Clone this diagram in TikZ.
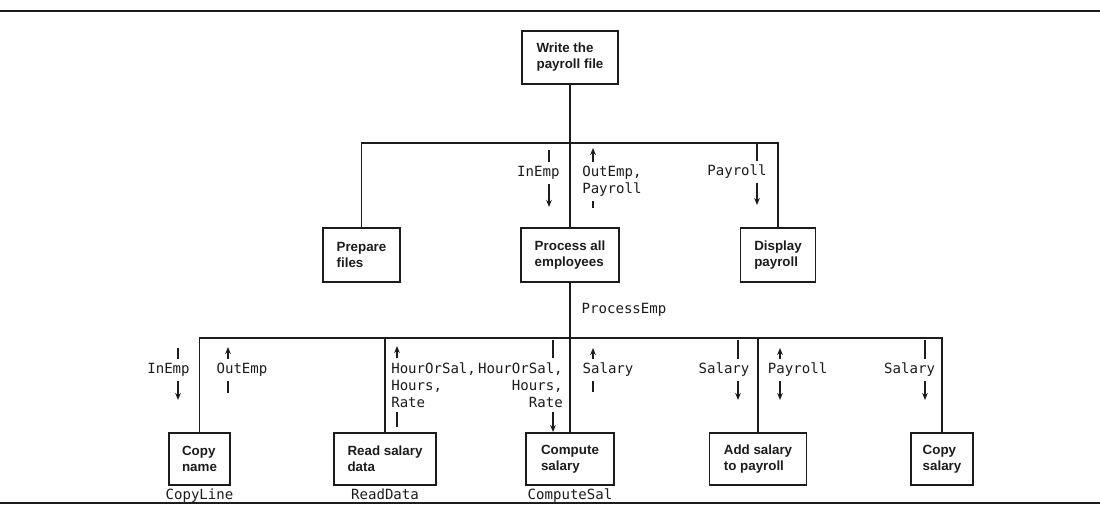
\documentclass[tikz,border=0pt]{standalone}
\usepackage{fontspec}
\setsansfont{Liberation Sans}
\setmonofont{DejaVu Sans Mono}
\usepackage{tikz}
\usetikzlibrary{arrows.meta,positioning}
\definecolor{ink}{HTML}{1C1C1C}

\begin{document}
\begin{tikzpicture}[
  box/.style={rectangle,draw=ink,line width=1.3pt,inner sep=2pt,align=left,text=ink,
    font=\sffamily\bfseries\fontsize{9.5}{11.4}\selectfont},
  flow/.style={fill=white,inner xsep=1pt,inner ysep=3pt,text=ink,
    font=\ttfamily\fontsize{10}{12}\selectfont},
  modname/.style={inner sep=1pt,text=ink,font=\ttfamily\fontsize{10}{12}\selectfont},
  link/.style={draw=ink,line width=1.2pt},
  datarrow/.style={draw=ink,line width=0.9pt},
  >={Stealth[length=5pt,width=4pt]}
]
  \useasboundingbox (0,0) rectangle (27.5,12.675);
  % page rules
  \draw[ink,line width=2pt] (0,12.4) -- (27.5,12.4);
  \draw[ink,line width=1.1pt] (0,0.1) -- (27.5,0.1);

  % modules
  \node[box,minimum width=2.4cm,minimum height=1.325cm] (root) at (14.25,11.2375) {Write the\\payroll file};
  \node[box,minimum width=1.925cm,minimum height=1.35cm] (prep) at (9.0375,6.3) {Prepare\\files};
  \node[box,minimum width=2.45cm,minimum height=1.35cm] (proc) at (14.25,6.3) {Process all\\employees};
  \node[box,minimum width=1.875cm,minimum height=1.35cm] (disp) at (19.45,6.3) {Display\\payroll};
  \node[box,minimum width=1.525cm,minimum height=1.3cm] (cname) at (4.9875,1.2) {Copy\\name};
  \node[box,minimum width=2.55cm,minimum height=1.3cm] (read) at (9.625,1.2) {Read salary\\data};
  \node[box,minimum width=2.2cm,minimum height=1.3cm] (comp) at (14.25,1.2) {Compute\\salary};
  \node[box,minimum width=2.425cm,minimum height=1.3cm] (addsal) at (18.95,1.2) {Add salary\\to payroll};
  \node[box,minimum width=1.55cm,minimum height=1.3cm] (csal) at (23.55,1.2) {Copy\\salary};

  \node[modname,below=1pt of cname] (cline) {CopyLine};
  \node[modname,below=1pt of read] (rdata) {ReadData};
  \node[modname,below=1pt of comp] (csalname) {ComputeSal};

  % tree lines
  \coordinate (bar1) at (14.25,9.1);
  \coordinate (bar2) at (14.25,4.225);
  \draw[link] (root) -- (proc);
  \draw[link] (prep) |- (bar1) -| (disp);
  \draw[link] (proc) -- (comp);
  \draw[link] (cname) |- (bar2) -| (csal);
  \draw[link] (read) -- (read |- bar2);
  \draw[link] (addsal) -- (addsal |- bar2);
  \node[modname,anchor=west] (pemp) at (14.5,4.925) {ProcessEmp};

  % data flows, first level
  \coordinate (inA) at (13.725,8.925);   \coordinate (inB) at (13.725,7.5);
  \coordinate (outA) at (14.825,8.975);  \coordinate (outB) at (14.825,7.475);
  \coordinate (payA) at (18.925,9.1);    \coordinate (payB) at (18.925,7.55);
  \draw[datarrow,->] (inA) -- (inB);
  \draw[datarrow,->] (outB) -- (outA);
  \draw[datarrow,->] (payA) -- (payB);
  \node[flow] (inemp) at (13.46,8.35) {InEmp};
  \node[flow,anchor=west,align=left] (outemp) at (14.515,8.1375) {OutEmp,\\Payroll};
  \node[flow] (payroll) at (18.425,8.375) {Payroll};

  % data flows, second level
  \coordinate (inA2) at (4.45,3.975);    \coordinate (inB2) at (4.45,2.675);
  \coordinate (outA2) at (5.7,4.0);      \coordinate (outB2) at (5.7,2.85);
  \coordinate (hrA) at (9.925,4.025);    \coordinate (hrB) at (9.925,2.0);
  \coordinate (hcA) at (13.825,4.175);   \coordinate (hcB) at (13.825,1.875);
  \coordinate (salA) at (14.825,3.975);  \coordinate (salB) at (14.825,2.875);
  \coordinate (asA) at (18.45,4.175);    \coordinate (asB) at (18.45,2.675);
  \coordinate (apA) at (19.5,3.975);     \coordinate (apB) at (19.5,2.675);
  \coordinate (csA) at (23.125,4.175);   \coordinate (csB) at (23.125,2.675);
  \draw[datarrow,->] (inA2) -- (inB2);
  \draw[datarrow,->] (outB2) -- (outA2);
  \draw[datarrow,->] (hrB) -- (hrA);
  \draw[datarrow,->] (hcA) -- (hcB);
  \draw[datarrow,->] (salB) -- (salA);
  \draw[datarrow,->] (asA) -- (asB);
  \draw[datarrow,<->] (apA) -- (apB);
  \draw[datarrow,->] (csA) -- (csB);
  \node[flow] (inemp2) at (4.2125,3.425) {InEmp};
  \node[flow] (outemp2) at (6.05,3.425) {OutEmp};
  \node[flow,anchor=west,align=left] (hrsread) at (9.74,3.05) {HourOrSal,\\Hours,\\Rate};
  \node[flow,anchor=east,align=right] (hrscomp) at (14.11,3.05) {HourOrSal,\\Hours,\\Rate};
  \node[flow] (salcomp) at (15.2,3.425) {Salary};
  \node[flow] (saladd) at (18.1,3.425) {Salary};
  \node[flow] (payadd) at (19.94,3.425) {Payroll};
  \node[flow] (salcopy) at (22.74,3.425) {Salary};
\end{tikzpicture}
\end{document}
